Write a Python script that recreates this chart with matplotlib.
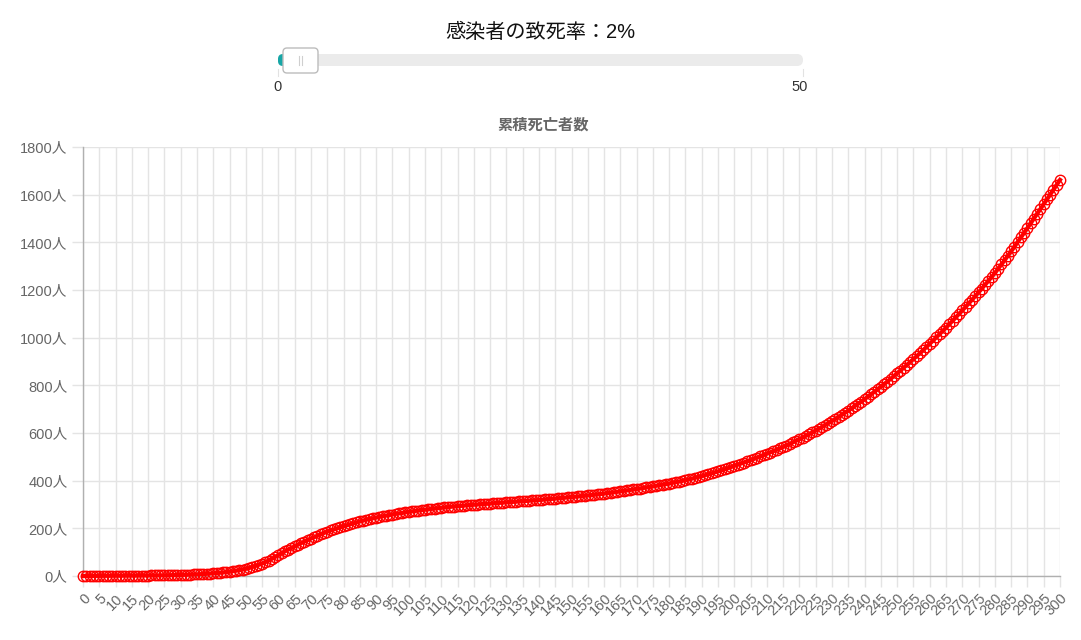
import matplotlib

matplotlib.use("Agg")
import matplotlib.pyplot as plt
from matplotlib.patches import FancyBboxPatch

plt.rcParams["font.family"] = ["Liberation Sans", "Noto Sans CJK JP", "DejaVu Sans"]

# slider state
rate = 2
rate_min, rate_max = 0, 50

# cumulative deaths per day, days 0..300
days = list(range(301))
deaths = [
    0, 0.1, 0.1, 0.2, 0.2, 0.3, 0.3, 0.4, 0.5, 0.6,
    0.7, 0.8, 0.9, 1.0, 1.1, 1.2, 1.4, 1.5, 1.7, 1.8,
    2.0, 2.2, 2.4, 2.6, 2.8, 3.0, 3.3, 3.5, 3.8, 4.1,
    4.5, 4.9, 5.3, 5.8, 6.4, 7.0, 7.7, 8.4, 9.2, 10.1,
    11, 12.2, 13.5, 15, 16.5, 18, 20, 22.5, 24.5, 27,
    30, 33.5, 37.5, 42, 47, 52, 58, 64.5, 72, 80,
    88, 96, 103.5, 110.5, 117.5, 124, 131, 138, 144.5, 151,
    157, 163, 169, 175, 180.5, 186, 191, 195.5, 200, 204.5,
    209, 213, 217, 221, 225, 229, 232.5, 236, 239, 242,
    245, 248, 250.5, 253, 255.5, 258, 260.5, 262.5, 264.5, 267,
    269, 271, 273, 274.5, 276.5, 278, 280, 281.5, 283, 284.5,
    286, 287.5, 289, 290.5, 291.5, 293, 294, 295.5, 296.5, 298,
    299, 300, 301, 302, 303, 304, 305, 306, 307, 308,
    309, 310, 311, 312, 313, 314, 315, 316, 317, 318,
    319, 320, 321, 322.5, 323.5, 325, 326, 327.5, 328.5, 330,
    331, 332.5, 334, 335, 336.5, 338, 339.5, 341, 342.5, 344,
    346, 347.5, 349, 351, 353, 355, 357, 359, 361, 363,
    365, 367, 369, 371.5, 373.5, 376, 378.5, 381, 383, 385.5,
    388, 391, 393.5, 396, 399, 402, 405, 408.5, 412, 415.5,
    419, 423, 427, 431, 435, 439, 443.5, 448, 452.5, 457,
    462, 466.5, 471.5, 476, 481, 486, 491, 496, 501.5, 506.5,
    512, 517.5, 523, 529, 535, 541, 547.5, 554, 560.5, 567,
    574, 581, 588, 595, 602.5, 610, 618, 626, 634, 642,
    650, 658.5, 667, 676, 685, 694, 703.5, 713, 722.5, 732,
    742, 752, 762.5, 773, 783.5, 794, 805, 816, 827.5, 839,
    850, 862, 874, 886, 898, 910, 922.5, 935, 948, 961,
    974, 987.5, 1001, 1014.5, 1028, 1042, 1056, 1070.5, 1085, 1099.5,
    1114, 1129, 1144, 1159, 1174.5, 1190, 1206, 1222, 1238, 1254.5,
    1271, 1289, 1307, 1325, 1343.5, 1362, 1381.5, 1401, 1420.5, 1440,
    1460, 1480, 1500, 1520, 1540, 1560, 1580, 1600.5, 1621, 1641.5,
    1662,
]
x_ticks = list(range(0, 301, 5))
y_ticks = list(range(0, 1801, 200))

GRID = "#e4e4e4"
AXIS = "#b0b0b0"
LABEL = "#666666"

fig = plt.figure(figsize=(10.81, 6.4), dpi=100)
fig.patch.set_facecolor("white")

# --- slider widget, drawn in pixel coords ---
ui = fig.add_axes([0, 0, 1, 1])
ui.set_xlim(0, 1081)
ui.set_ylim(640, 0)
ui.axis("off")
ui.patch.set_alpha(0)

ui.text(540, 32, f"感染者の致死率：{rate}%", ha="center", va="center",
        fontsize=14.5, color="#111111")

trk_x0, trk_x1 = 278, 803
ui.add_patch(FancyBboxPatch((trk_x0, 54), trk_x1 - trk_x0, 12,
                            boxstyle="round,pad=0,rounding_size=6",
                            fc="#ebebeb", ec="none"))
hx = trk_x0 + (trk_x1 - trk_x0) * (rate - rate_min) / (rate_max - rate_min)
ui.add_patch(FancyBboxPatch((trk_x0, 54), hx - trk_x0 + 6, 12,
                            boxstyle="round,pad=0,rounding_size=5",
                            fc="#16a6a6", ec="none"))
ui.add_patch(FancyBboxPatch((283, 48), 35, 25,
                            boxstyle="round,pad=0,rounding_size=4",
                            fc="white", ec="#bcbcbc", lw=1))
for lx in (298.5, 301.5):
    ui.plot([lx, lx], [56, 65], color="#cfcfcf", lw=0.8)
for tx in (trk_x0, trk_x1):
    ui.plot([tx, tx], [69, 76], color="#e2e2e2", lw=0.8)
ui.text(trk_x0, 87, str(rate_min), ha="center", va="center", fontsize=10.5, color="#333333")
ui.text(trk_x1 - 3, 87, str(rate_max), ha="center", va="center", fontsize=10.5, color="#333333")

ui.text(543, 125, "累積死亡者数", ha="center", va="center", fontsize=11,
        fontweight="bold", color=LABEL)

# --- main chart ---
ax = fig.add_axes([83 / 1081, 1 - 576 / 640, (1060 - 83) / 1081, (576 - 147) / 640])
ax.plot(days, deaths, color="red", lw=3, marker="o", markersize=7.5,
        markerfacecolor="none", markeredgecolor="red", markeredgewidth=1.0,
        clip_on=False, zorder=5)

ax.set_xlim(0, 300)
ax.set_ylim(0, 1800)
ax.set_xticks(x_ticks)
ax.set_xticklabels([str(v) for v in x_ticks], rotation=45, ha="right",
                   rotation_mode="anchor", fontsize=10.5, color=LABEL)
ax.set_yticks(y_ticks)
ax.set_yticklabels([f"{v}人" for v in y_ticks], fontsize=10.5, color=LABEL)
ax.tick_params(axis="both", length=8, width=1, color=GRID, pad=3)
ax.grid(True, color=GRID, lw=1)
ax.set_axisbelow(True)
for side in ("top", "right"):
    ax.spines[side].set_visible(False)
for side in ("left", "bottom"):
    ax.spines[side].set_color(AXIS)
    ax.spines[side].set_linewidth(1)

fig.savefig("out.png", dpi=100, facecolor="white")
